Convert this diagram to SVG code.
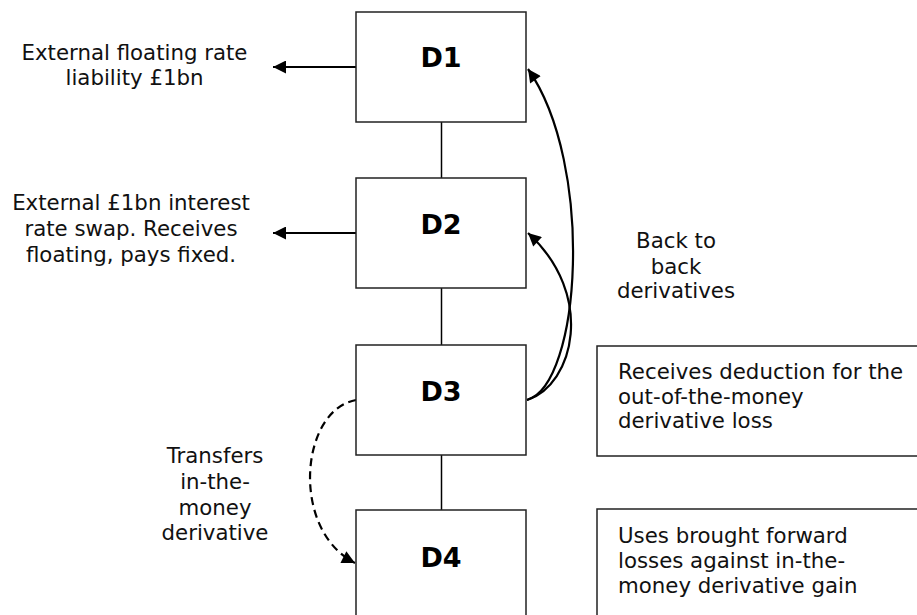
<svg xmlns="http://www.w3.org/2000/svg" width="917" height="615" viewBox="0 0 917 615">
<defs>
<style>
.box{fill:#fff;stroke:#222;stroke-width:1.5}
.lbl{font-family:"DejaVu Sans",Verdana,sans-serif;font-weight:bold;font-size:27px;text-anchor:middle;fill:#000}
.t{font-family:"DejaVu Sans",Verdana,sans-serif;font-size:21.3px;fill:#111}
.c{text-anchor:middle}
.link{stroke:#000;stroke-width:1.5;fill:none}
.arr{stroke:#000;stroke-width:2.2;fill:none}
</style>
<marker id="ah" viewBox="0 0 10 10" refX="10" refY="5" markerWidth="16" markerHeight="13" markerUnits="userSpaceOnUse" orient="auto"><path d="M0,0 L10,5 L0,10 z" fill="#000"/></marker>
</defs>
<g id="connectors">
<line class="link" x1="441.5" y1="122" x2="441.5" y2="178"/>
<line class="link" x1="441.5" y1="288" x2="441.5" y2="345"/>
<line class="link" x1="441.5" y1="455" x2="441.5" y2="510"/>
<line class="arr" x1="356" y1="67" x2="273" y2="67" marker-end="url(#ah)"/>
<line class="arr" x1="356" y1="233" x2="273" y2="233" marker-end="url(#ah)"/>
<path class="arr" d="M527,400 C581,385 595,165 528,69" marker-end="url(#ah)"/>
<path class="arr" d="M527,400 C574,385 596,295 528,233" marker-end="url(#ah)"/>
<path class="arr" d="M356,400 C300,410 290,530 355,563" stroke-dasharray="8,5" marker-end="url(#ah)"/>
</g>
<g id="D1"><rect class="box" x="356" y="12" width="170" height="110"/><text class="lbl" x="441" y="67">D1</text></g>
<g id="D2"><rect class="box" x="356" y="178" width="170" height="110"/><text class="lbl" x="441" y="234">D2</text></g>
<g id="D3"><rect class="box" x="356" y="345" width="170" height="110"/><text class="lbl" x="441" y="401">D3</text></g>
<g id="D4"><rect class="box" x="356" y="510" width="170" height="120"/><text class="lbl" x="441" y="567">D4</text></g>
<g id="note-ext1"><text class="t c" x="134.5" y="60">External floating rate</text><text class="t c" x="134.5" y="85">liability £1bn</text></g>
<g id="note-ext2"><text class="t c" x="131" y="210">External £1bn interest</text><text class="t c" x="131" y="236">rate swap. Receives</text><text class="t c" x="131" y="262">floating, pays fixed.</text></g>
<g id="note-b2b"><text class="t c" x="676" y="248">Back to</text><text class="t c" x="676" y="274">back</text><text class="t c" x="676" y="298">derivatives</text></g>
<g id="note-transfer"><text class="t c" x="215" y="463">Transfers</text><text class="t c" x="215" y="489">in-the-</text><text class="t c" x="215" y="515">money</text><text class="t c" x="215" y="540">derivative</text></g>
<g id="note-D3"><rect class="box" x="597" y="346" width="340" height="110"/><text class="t" x="618" y="379">Receives deduction for the</text><text class="t" x="618" y="404">out-of-the-money</text><text class="t" x="618" y="428">derivative loss</text></g>
<g id="note-D4"><rect class="box" x="597" y="509" width="340" height="120"/><text class="t" x="618" y="543">Uses brought forward</text><text class="t" x="618" y="568">losses against in-the-</text><text class="t" x="618" y="593">money derivative gain</text></g>
</svg>
